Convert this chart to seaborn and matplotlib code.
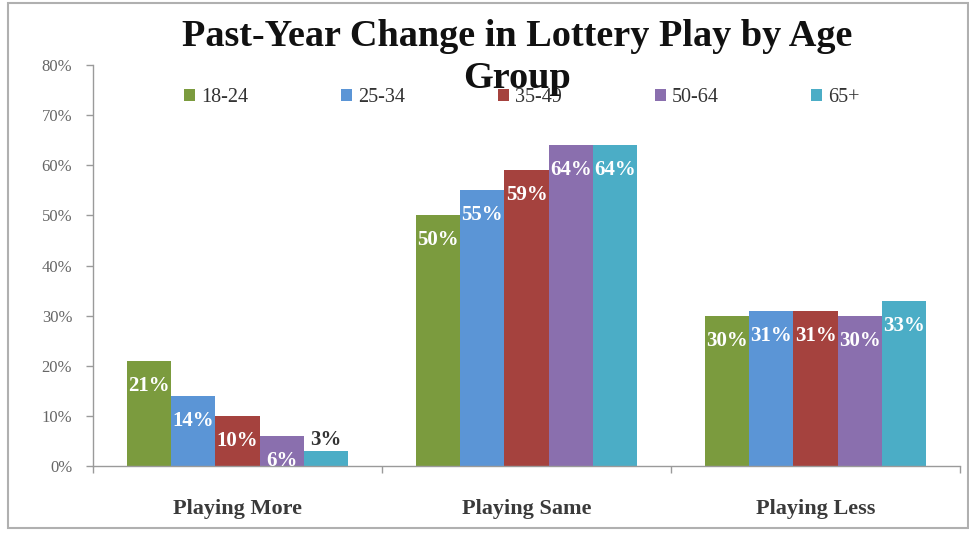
import matplotlib
matplotlib.use("Agg")
import matplotlib.pyplot as plt
import seaborn as sns
import pandas as pd
from matplotlib.patches import Rectangle

categories = ["Playing More", "Playing Same", "Playing Less"]
age_groups = ["18-24", "25-34", "35-49", "50-64", "65+"]
values_18_24 = [21, 50, 30]
values_25_34 = [14, 55, 31]
values_35_49 = [10, 59, 31]
values_50_64 = [6, 64, 30]
values_65_plus = [3, 64, 33]
y_ticks = [0, 10, 20, 30, 40, 50, 60, 70, 80]
title_lines = ["Past-Year Change in Lottery Play by Age", "Group"]

series = [values_18_24, values_25_34, values_35_49, values_50_64, values_65_plus]
rows = []
for grp, vals in zip(age_groups, series):
    for cat, v in zip(categories, vals):
        rows.append({"category": cat, "age": grp, "pct": v / 100})
df = pd.DataFrame(rows)

palette = ["#7b9b3e", "#5b95d6", "#a5423e", "#8a6fae", "#4badc6"]

sns.set_theme(style="white")
plt.rcParams["font.family"] = ["Liberation Serif", "DejaVu Serif"]

fig = plt.figure(figsize=(9.7, 5.33), dpi=100)
ax = fig.add_axes([0.0959, 0.1257, 0.8938, 0.7523])

sns.barplot(data=df, x="category", y="pct", hue="age", order=categories,
            hue_order=age_groups, palette=palette, saturation=1,
            width=0.765, gap=0, linewidth=0, ax=ax, legend=True)

ax.set_xlim(-0.5, 2.5)
ax.set_ylim(0, 0.8)
ax.set_yticks([t / 100 for t in y_ticks])
ax.set_yticklabels([f"{t}%" for t in y_ticks], color="#666666", fontsize=12)
ax.set_xlabel("")
ax.set_ylabel("")

for s in ["top", "right"]:
    ax.spines[s].set_visible(False)
for s in ["left", "bottom"]:
    ax.spines[s].set_color("#9a9a9a")
    ax.spines[s].set_linewidth(1.0)

ax.tick_params(axis="y", left=True, length=5, width=1, color="#9a9a9a", pad=10)
ax.tick_params(axis="x", which="major", length=0, pad=24)
ax.set_xticks([-0.5, 0.5, 1.5, 2.5], minor=True)
ax.tick_params(axis="x", which="minor", bottom=True, length=5, width=1, color="#9a9a9a")
for lbl in ax.get_xticklabels():
    lbl.set_fontsize(16)
    lbl.set_fontweight("bold")
    lbl.set_color("#3a3a3a")

# value labels just inside the top of each bar
for container, grp_vals in zip(ax.containers, series):
    for patch, v in zip(container.patches, grp_vals):
        cx = patch.get_x() + patch.get_width() / 2
        top = patch.get_height()
        if v < 5:
            ax.text(cx, top + 0.002, f"{v}%", ha="center", va="bottom",
                    color="#333333", fontsize=15, fontweight="bold")
        else:
            ax.text(cx, top - 0.05, f"{v}%", ha="center", va="center",
                    color="white", fontsize=15, fontweight="bold")

leg = ax.legend(loc="center", bbox_to_anchor=(0.495, 0.918), ncol=5, frameon=False,
                handlelength=0.55, handleheight=0.55, handletextpad=0.3,
                columnspacing=4.6, fontsize=14.5)
for t in leg.get_texts():
    t.set_color("#333333")

fig.text(0.533, 0.932, title_lines[0], ha="center", va="center",
         fontsize=27.5, fontweight="bold", color="#111111")
fig.text(0.533, 0.852, title_lines[1], ha="center", va="center",
         fontsize=27.5, fontweight="bold", color="#111111")

fig.patches.append(Rectangle((0.008, 0.01), 0.99, 0.985, transform=fig.transFigure,
                             fill=False, edgecolor="#b0b0b0", linewidth=1.5))

fig.savefig("out.png", dpi=100, facecolor="white")
